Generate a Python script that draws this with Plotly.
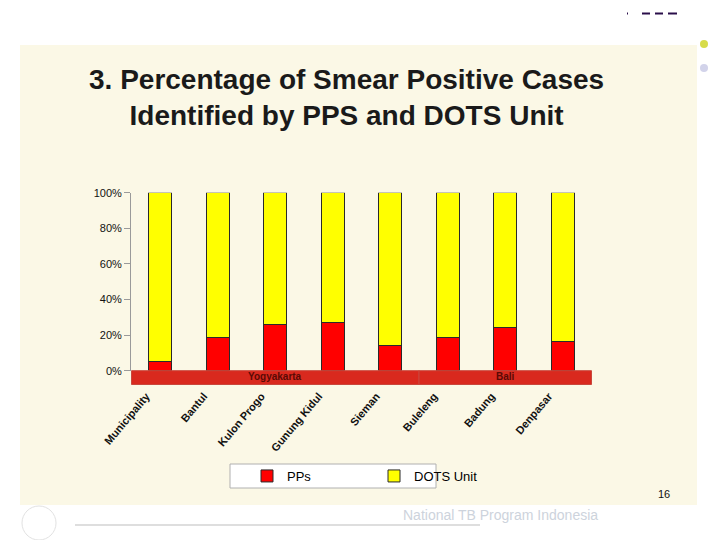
import plotly.graph_objects as go

categories = ["Municipality", "Bantul", "Kulon Progo", "Gunung Kidul", "Sieman",
              "Buleleng", "Badung", "Denpasar"]
pps = [4.9, 18.9, 25.7, 27.3, 14.4, 18.4, 24.2, 16.5]
dots = [100 - v for v in pps]
groups = [("Yogyakarta", 0, 4), ("Bali", 5, 7)]
y_ticks = [0, 20, 40, 60, 80, 100]
y_tick_labels = ["0%", "20%", "40%", "60%", "80%", "100%"]

W, H = 720, 540
OFF = 8  # page body margin
def px(x):
    return (x - OFF) / W
def py(y):
    return 1 - (y - OFF) / H

NARROW = "Liberation Sans Narrow, Arial Narrow, Liberation Sans, Arial, sans-serif"
SANS = "Liberation Sans, Arial, sans-serif"
bar_line = dict(color="#2a2a2a", width=1)

fig = go.Figure()
fig.add_trace(go.Bar(x=categories, y=pps, name="PPs",
                     marker=dict(color="#ff0000", line=bar_line), width=0.4))
fig.add_trace(go.Bar(x=categories, y=dots, name="DOTS Unit",
                     marker=dict(color="#ffff00", line=bar_line), width=0.4))

shapes = []
# slide panel
shapes.append(dict(type="rect", xref="paper", yref="paper", x0=px(20), x1=px(697),
                   y0=py(505), y1=py(45), fillcolor="#fbf8e6", line=dict(width=0), layer="below"))
# group band
band_top, band_bot = py(370.7), py(384.5)
annotations = []
for name, i0, i1 in groups:
    shapes.append(dict(type="rect", xref="x", yref="paper", x0=i0 - 0.5, x1=i1 + 0.5,
                       y0=band_bot, y1=band_top, fillcolor="#d9291e",
                       line=dict(color="#c9473c", width=1), layer="above"))
    annotations.append(dict(x=(i0 + i1) / 2, y=band_bot, xref="x", yref="paper",
                            xanchor="center", yanchor="bottom", yshift=1,
                            text="<b>%s</b>" % name, showarrow=False,
                            font=dict(family=NARROW, size=10, color="#5a0a05")))
# legend box
shapes.append(dict(type="rect", xref="paper", yref="paper", x0=px(230), x1=px(436),
                   y0=py(488), y1=py(464), fillcolor="#ffffff",
                   line=dict(color="#b0b0b0", width=1), layer="below"))
# slide decorations
shapes.append(dict(type="line", xref="paper", yref="paper", x0=px(75), x1=px(480),
                   y0=py(525), y1=py(525), line=dict(color="#bdbdbd", width=1)))
shapes.append(dict(type="circle", xref="paper", yref="paper", x0=px(700), x1=px(708),
                   y0=py(48), y1=py(40), fillcolor="#d7dc4a", line=dict(width=0)))
shapes.append(dict(type="circle", xref="paper", yref="paper", x0=px(700), x1=px(708),
                   y0=py(72), y1=py(64), fillcolor="#d2d3ea", line=dict(width=0)))
shapes.append(dict(type="circle", xref="paper", yref="paper", x0=px(22), x1=px(56),
                   y0=py(540), y1=py(506), fillcolor="rgba(0,0,0,0)",
                   line=dict(color="#e2e2e2", width=1)))
for xa, xb in [(627, 628), (642, 650), (655, 663), (668, 677)]:
    shapes.append(dict(type="line", xref="paper", yref="paper", x0=px(xa), x1=px(xb),
                       y0=py(13.5), y1=py(13.5), line=dict(color="#2a0e4a", width=2)))

annotations.append(dict(x=px(346), y=py(62), xref="paper", yref="paper", xanchor="center",
                        yanchor="top", showarrow=False,
                        text="<b>3. Percentage of Smear Positive Cases<br>Identified by PPS and DOTS Unit</b>",
                        font=dict(family=SANS, size=28, color="#1a1a1a")))
annotations.append(dict(x=px(672), y=py(502), xref="paper", yref="paper", showarrow=False,
                        text="16", font=dict(family=NARROW, size=11, color="#111111")))
annotations.append(dict(x=px(600), y=py(525), xref="paper", yref="paper", showarrow=False,
                        text="National TB Program Indonesia",
                        font=dict(family=SANS, size=14, color="#cdd3dc")))

fig.update_layout(
    width=W, height=H, barmode="stack",
    margin=dict(l=0, r=0, t=0, b=0, pad=0, autoexpand=False),
    paper_bgcolor="#ffffff", plot_bgcolor="rgba(0,0,0,0)",
    shapes=shapes, annotations=annotations,
    showlegend=True,
    legend=dict(orientation="h", x=px(247), y=py(476), xanchor="left", yanchor="middle",
                traceorder="normal",
                bgcolor="rgba(0,0,0,0)", borderwidth=0, entrywidth=82, entrywidthmode="pixels",
                font=dict(family=NARROW, size=13, color="#000000"), itemwidth=30),
    xaxis=dict(domain=[px(131), px(592)], tickangle=-50, showline=False, showgrid=False,
               ticks="", ticklabelstandoff=16, ticklabelshift=-14, automargin=False,
               tickfont=dict(family=NARROW, size=11, color="#111111", weight="bold")),
    yaxis=dict(domain=[py(370.7), py(192.7)], range=[0, 100], tickvals=y_ticks,
               ticktext=y_tick_labels, automargin=False,
               showgrid=False, showline=True, linecolor="#9a9a9a",
               ticks="outside", ticklen=6, tickcolor="#9a9a9a", zeroline=False,
               tickfont=dict(family=NARROW, size=11, color="#111111")),
)

fig.write_html("out.html")
